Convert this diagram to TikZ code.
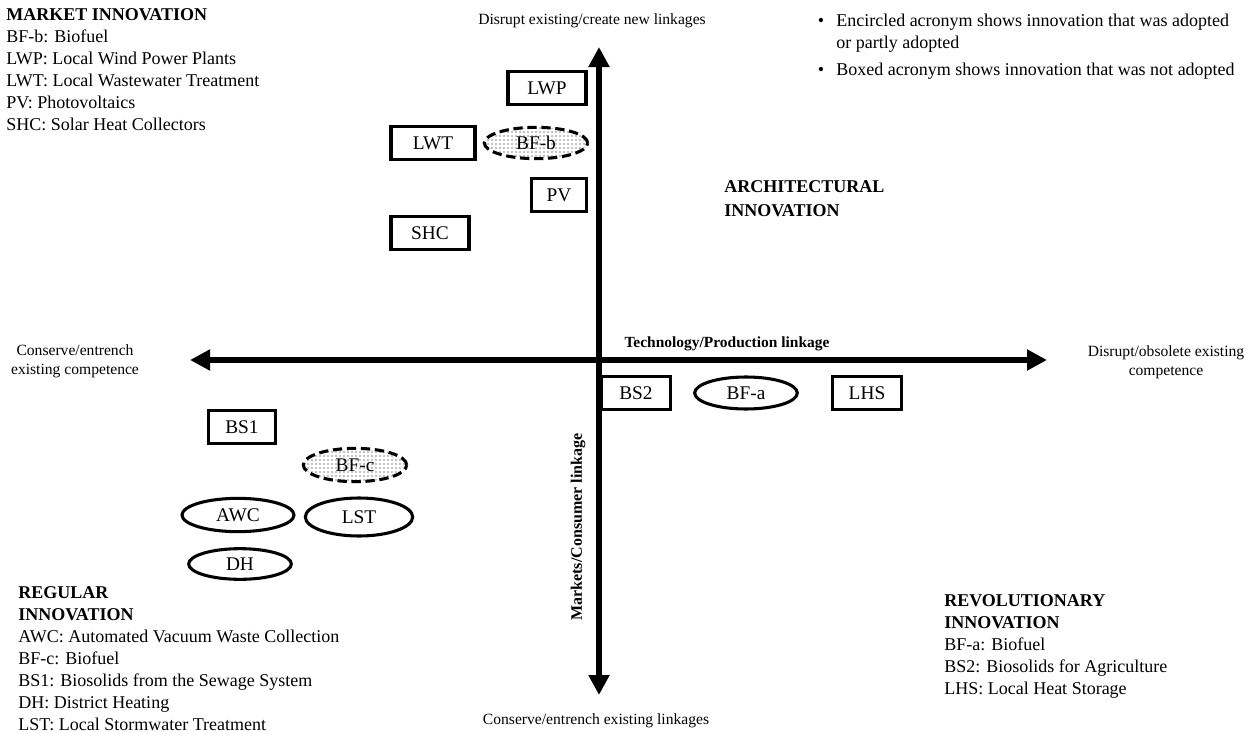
\documentclass[tikz,border=0pt]{standalone}
\usepackage{fontspec}
\setmainfont{Liberation Serif}
\usetikzlibrary{arrows.meta,positioning,shapes.geometric,patterns}

\begin{document}
\begin{tikzpicture}[x=0.75pt,y=-0.75pt,
        acro/.style={rectangle, draw, line width=2.6pt, inner sep=0pt, minimum height=24.5pt, font=\fontsize{14.5}{16.5}\selectfont},
        oval/.style={ellipse, draw, line width=2.3pt, inner sep=0pt, minimum height=24pt, font=\fontsize{14.5}{16.5}\selectfont},
        partly/.style={oval, dash pattern=on 7pt off 3.5pt, pattern=dots},
        legend/.style={anchor=base west, align=left, inner sep=0pt, font=\fontsize{13.5}{16.5}\selectfont},
        axislabel/.style={align=center, inner sep=0pt, font=\fontsize{11.7}{14.3}\selectfont},
        axis/.style={line width=4.5pt, {Triangle[length=15pt,width=15pt]}-{Triangle[length=15pt,width=15pt]}}]
        \useasboundingbox (0,0) rectangle (1254,732);

        %% Axes
        \coordinate (W) at (190,360);
        \coordinate (E) at (1047,360);
        \coordinate (N) at (599,47);
        \coordinate (S) at (599,695);
        \draw[axis] (W) -- (E);
        \draw[axis] (N) -- (S);

        \node[axislabel, anchor=base] (top) at (592,24) {Disrupt existing/create new linkages};
        \node[axislabel, anchor=base] (bottom) at (596,724) {Conserve/entrench existing linkages};
        \node[axislabel] (left) at (75,361) {Conserve/entrench\\existing competence};
        \node[axislabel] (right) at (1166,362) {Disrupt/obsolete existing\\competence};
        \node[axislabel, anchor=base, font=\bfseries\fontsize{11.6}{14}\selectfont] (tech) at (727,347) {Technology/Production linkage};
        \node[axislabel, rotate=90, font=\bfseries\fontsize{12}{14}\selectfont] (mark) at (578,527) {Markets/Consumer linkage};

        %% Market innovation (upper left)
        \node[acro, minimum width=58.5pt] (LWP) at (547,88) {LWP};
        \node[acro, minimum width=63pt] (LWT) at (433,143) {LWT};
        \node[partly, minimum width=77.5pt, minimum height=23.5pt] (BFb) at (536,143) {BF-b};
        \node[acro, minimum width=41.5pt, minimum height=25pt] (PV) at (559,195) {PV};
        \node[acro, minimum width=58.5pt] (SHC) at (430,233) {SHC};

        %% Regular innovation (lower left)
        \node[acro, minimum width=50.5pt] (BS1) at (242,427) {BS1};
        \node[partly, minimum width=77.5pt, minimum height=25pt] (BFc) at (355,465) {BF-c};
        \node[oval, minimum width=84pt, minimum height=25pt] (AWC) at (238,515) {AWC};
        \node[oval, minimum width=80.5pt, minimum height=28.5pt] (LST) at (359,517) {LST};
        \node[oval, minimum width=77pt, minimum height=23pt] (DH) at (240,564) {DH};

        %% Revolutionary innovation (lower right)
        \node[acro, minimum width=52pt] (BS2) at (636,393) {BS2};
        \node[oval, minimum width=77pt] (BFa) at (746,393) {BF-a};
        \node[acro, minimum width=52pt] (LHS) at (867,393) {LHS};

        %% Legends (anchored at the baseline of the last line)
        \node[legend] (mkt) at (6,130) {\textbf{MARKET INNOVATION}\\
             BF-b: Biofuel\\
             LWP: Local Wind Power Plants\\
             LWT: Local Wastewater Treatment\\
             PV: Photovoltaics\\
             SHC: Solar Heat Collectors};
        \node[legend, font=\bfseries\fontsize{13.5}{18}\selectfont] (arch) at (724,216) {ARCHITECTURAL\\INNOVATION};
        \node[legend] (reg) at (18,730) {\textbf{REGULAR}\\
             \textbf{INNOVATION}\\
             AWC: Automated Vacuum Waste Collection\\
             BF-c: Biofuel\\
             BS1: Biosolids from the Sewage System\\
             DH: District Heating\\
             LST: Local Stormwater Treatment};
        \node[legend] (rev) at (944,694) {\textbf{REVOLUTIONARY}\\
             \textbf{INNOVATION}\\
             BF-a: Biofuel\\
             BS2: Biosolids for Agriculture\\
             LHS: Local Heat Storage};

        %% Key
        \node[legend, anchor=base] (b1) at (821,26) {•};
        \node[legend] (k1) at (836,48) {Encircled acronym shows innovation that was adopted\\or partly adopted};
        \node[legend, anchor=base] (b2) at (821,75) {•};
        \node[legend] (k2) at (836,75) {Boxed acronym shows innovation that was not adopted};
    \end{tikzpicture}
\end{document}
